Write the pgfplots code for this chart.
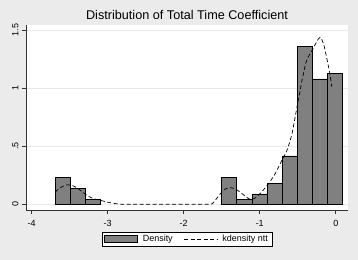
\documentclass[border=0pt]{standalone}
\usepackage{fontspec}
\setmainfont{Liberation Sans}
\usepackage{pgfplots}
\pgfplotsset{compat=1.18}
\definecolor{bgcol}{RGB}{235,235,235}
\definecolor{barcol}{RGB}{128,128,128}
\definecolor{gridcol}{RGB}{232,232,232}
\begin{document}
\begin{tikzpicture}
\fill[bgcol] (-26bp,-50bp) rectangle (332bp,210bp);
\begin{axis}[
  scale only axis,
  width=322bp, height=185bp,
  xmin=-4.075, xmax=0.161,
  ymin=-0.049, ymax=1.543,
  axis background/.style={fill=white},
  axis x line*=bottom, axis y line*=left,
  axis line style={black!80, line width=0.6bp},
  tick align=outside,
  major tick length=4bp,
  tick style={black!80, line width=0.6bp},
  xtick={-4,-3,-2,-1,0},
  xticklabels={-4,-3,-2,-1,0},
  ytick={0,0.5,1,1.5},
  yticklabels={0,.5,1,1.5},
  ymajorgrids,
  grid style={gridcol, line width=0.8bp},
  ticklabel style={font=\fontsize{9}{10}\selectfont},
  xticklabel style={yshift=-2.5bp},
  yticklabel style={rotate=90, anchor=south},
  title={Distribution of Total Time Coefficient},
  title style={at={(0.5,1)}, anchor=base, yshift=-0.5bp, font=\fontsize{12.7}{14}\selectfont},
  legend style={at={(0.5,-0.117)}, anchor=north, legend columns=2,
    draw=black, fill=white, line width=0.5bp,
    font=\fontsize{9}{10}\selectfont,
    inner xsep=2bp, inner ysep=1bp,
    /tikz/every odd column/.append style={column sep=3bp},
    /tikz/every even column/.append style={column sep=9bp}},
]
\addplot[ybar interval, fill=barcol, draw=black, line width=0.6bp,
  legend image code/.code={\draw[fill=barcol, draw=black, line width=0.6bp] (0bp,-3.8bp) rectangle (33bp,3.8bp);}]
  coordinates {(-3.690,0.232) (-3.491,0.137) (-3.292,0.041) (-3.093,0)};
\addlegendentry{Density}
\addplot[ybar interval, fill=barcol, draw=black, line width=0.6bp, forget plot]
  coordinates {(-1.501,0.229) (-1.302,0.043) (-1.103,0.089) (-0.904,0.181) (-0.705,0.417) (-0.506,1.360) (-0.307,1.080) (-0.108,1.128) (0.091,0)};
\addplot[black, line width=0.7bp, dash pattern=on 4bp off 2.5bp, smooth,
  legend image code/.code={\draw[black, line width=0.7bp, dash pattern=on 4bp off 2.5bp] (0bp,0bp) -- (33bp,0bp);}]
  coordinates {
  (-3.69,0.105) (-3.64,0.135) (-3.58,0.158) (-3.52,0.168) (-3.46,0.160)
  (-3.40,0.140) (-3.32,0.100) (-3.25,0.068) (-3.18,0.048) (-3.10,0.035)
  (-3.00,0.018) (-2.90,0.006) (-2.82,0.001) (-2.70,0) (-2.00,0) (-1.70,0)
  (-1.63,0.004) (-1.59,0.030) (-1.55,0.065) (-1.48,0.118) (-1.43,0.138)
  (-1.38,0.143) (-1.33,0.136) (-1.28,0.115) (-1.22,0.085) (-1.16,0.055)
  (-1.11,0.042) (-1.06,0.055) (-1.00,0.090) (-0.93,0.140) (-0.865,0.195)
  (-0.80,0.260) (-0.75,0.325) (-0.70,0.390) (-0.645,0.46) (-0.58,0.597)
  (-0.513,0.826) (-0.447,1.055) (-0.395,1.213) (-0.36,1.27) (-0.295,1.343)
  (-0.25,1.40) (-0.207,1.436) (-0.163,1.386) (-0.118,1.257) (-0.075,1.113)
  (-0.053,1.013)};
\addlegendentry{kdensity ntt}
\end{axis}
\end{tikzpicture}
\end{document}
